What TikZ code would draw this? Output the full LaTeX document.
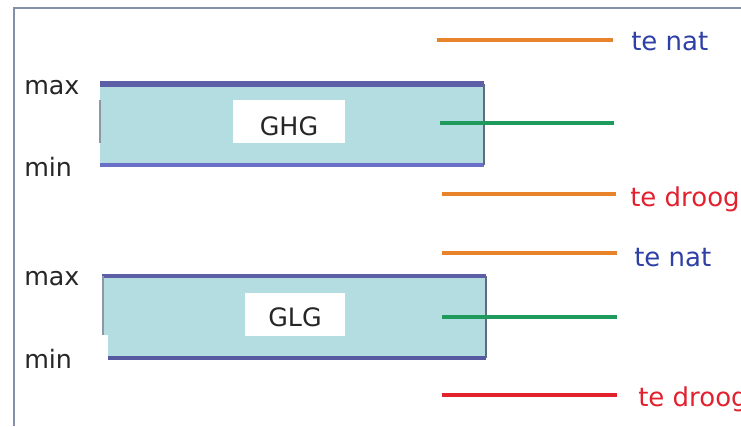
\documentclass[tikz,border=0pt]{standalone}
\usepackage{fontspec}
\setmainfont{DejaVu Sans}
\definecolor{frame}{HTML}{8390A8}
\definecolor{boxfill}{HTML}{B3DDE0}
\definecolor{topedge}{HTML}{5C5FA6}
\definecolor{botedge}{HTML}{6A70C8}
\definecolor{sideedge}{HTML}{5E6B80}
\definecolor{wetblue}{HTML}{2E3FA6}
\definecolor{dryred}{HTML}{E2202E}
\definecolor{lnorange}{HTML}{E8832C}
\definecolor{lngreen}{HTML}{1E9A5C}
\definecolor{lnred}{HTML}{E2232D}
\tikzset{
  lbl/.style={inner sep=0pt, font=\fontsize{19}{21}\selectfont, text=black!85},
  wet/.style={lbl, font=\fontsize{19.5}{21}\selectfont, text=wetblue},
  dry/.style={lbl, font=\fontsize{19.5}{21}\selectfont, text=dryred},
  level/.style={line width=2.8pt},
  whitebox/.style={fill=white, draw=none},
}
\begin{document}
\begin{tikzpicture}[x=0.75pt,y=-0.75pt]
\useasboundingbox (0,0) rectangle (741,426);
% frame
\draw[frame, line width=1.5pt] (741,8) -- (14,8) -- (14,426);

% ---------- upper box (GHG) ----------
\fill[boxfill] (100,85) rectangle (484,165);
\draw[topedge, line width=3.8pt] (100,84) -- (484,84);
\draw[botedge, line width=3pt] (100,165) -- (484,165);
\draw[sideedge, line width=1.6pt] (484,84) -- (484,165);
\draw[sideedge!70, line width=0.8pt] (100,100) -- (100,143);
\fill[whitebox] (233,100) rectangle (345,143);
\node[lbl, anchor=base] (ghg) at (289,135) {GHG};
\node[lbl, anchor=base west] (max1) at (24,94) {max};
\node[lbl, anchor=base west] (min1) at (24,176) {min};

\coordinate (o1a) at (437,40);  \coordinate (o1b) at (613,40);
\coordinate (g1a) at (440,123); \coordinate (g1b) at (614,123);
\coordinate (o2a) at (442,194); \coordinate (o2b) at (616,194);
\draw[lnorange, level] (o1a) -- (o1b);
\draw[lngreen, level] (g1a) -- (g1b);
\draw[lnorange, level] (o2a) -- (o2b);
\node[wet, anchor=base west] (nat1) at (631,50) {te nat};
\node[dry, anchor=base west] (droog1) at (630,206) {te droog};

% ---------- lower box (GLG) ----------
\fill[boxfill] (103,277) rectangle (486,335);
\fill[boxfill] (108,335) rectangle (486,358);
\draw[topedge, line width=3pt] (102,276) -- (486,276);
\draw[botedge!80!black, line width=3pt] (108,358) -- (486,358);
\draw[sideedge, line width=1.6pt] (486,276) -- (486,358);
\draw[sideedge!70, line width=0.8pt] (103,276) -- (103,335);
\fill[whitebox] (245,293) rectangle (345,336);
\node[lbl, anchor=base] (glg) at (295,326) {GLG};
\node[lbl, anchor=base west] (max2) at (24,285) {max};
\node[lbl, anchor=base west] (min2) at (24,368) {min};

\coordinate (o3a) at (442,253); \coordinate (o3b) at (617,253);
\coordinate (g2a) at (442,317); \coordinate (g2b) at (617,317);
\coordinate (r1a) at (442,395); \coordinate (r1b) at (617,395);
\draw[lnorange, level] (o3a) -- (o3b);
\draw[lngreen, level] (g2a) -- (g2b);
\draw[lnred, level] (r1a) -- (r1b);
\node[wet, anchor=base west] (nat2) at (634,266) {te nat};
\node[dry, anchor=base west] (droog2) at (638,406) {te droog};
\end{tikzpicture}
\end{document}
